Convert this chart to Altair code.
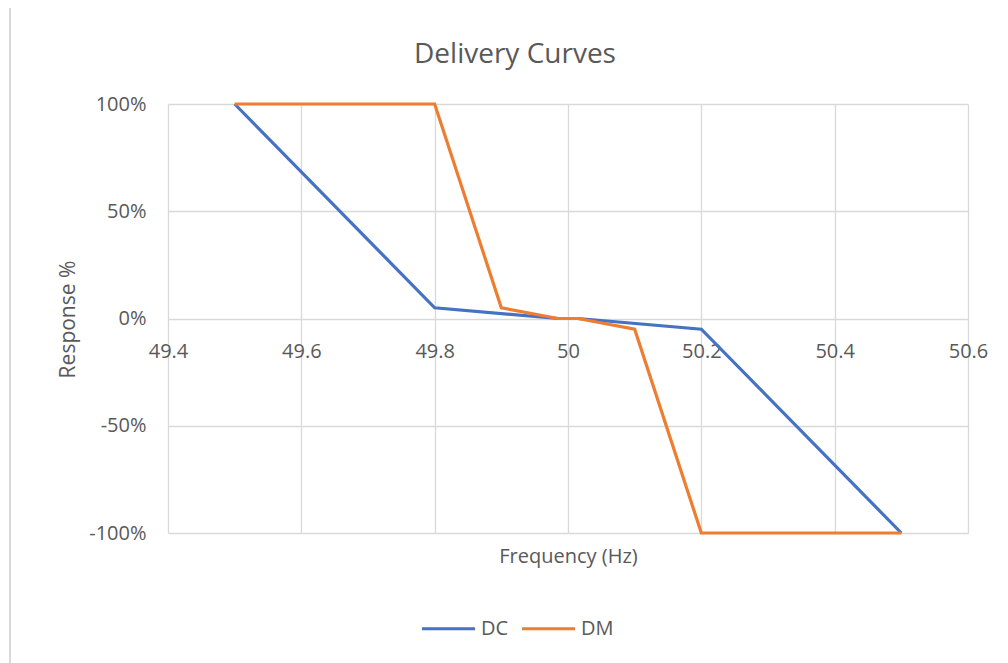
import altair as alt
import pandas as pd

dc_freq = [49.5, 49.8, 49.985, 50.015, 50.2, 50.5]
dc_resp = [1.00, 0.05, 0.0, 0.0, -0.05, -1.00]
dm_freq = [49.5, 49.8, 49.9, 49.985, 50.015, 50.1, 50.2, 50.5]
dm_resp = [1.00, 1.00, 0.05, 0.0, 0.0, -0.05, -1.00, -1.00]
series = ["DC", "DM"]
colors = ["#4472C4", "#ED7D31"]
x_ticks = [49.4, 49.6, 49.8, 50.0, 50.2, 50.4, 50.6]
y_ticks = [-1.0, -0.5, 0.0, 0.5, 1.0]

rows = []
for i, (f, r) in enumerate(zip(dc_freq, dc_resp)):
    rows.append({"series": "DC", "freq": f, "resp": r, "order": i})
for i, (f, r) in enumerate(zip(dm_freq, dm_resp)):
    rows.append({"series": "DM", "freq": f, "resp": r, "order": i})
df = pd.DataFrame(rows)

FONT = "Open Sans"
GRAY = "#595959"
W, H = 800, 429

lines = alt.Chart(df).mark_line(strokeWidth=3.2, clip=False).encode(
    x=alt.X("freq:Q", scale=alt.Scale(domain=[49.4, 50.6], nice=False, zero=False),
            axis=alt.Axis(values=x_ticks, labelExpr="datum.value == 50 ? '50' : format(datum.value, '.1f')",
                          offset=-214, domain=False, ticks=False, grid=True, gridColor="#D9D9D9",
                          gridWidth=1.3, labelPadding=22, labelFontSize=20, labelColor=GRAY,
                          labelFont=FONT, labelFlush=False, labelOverlap=False,
                          title="Frequency (Hz)", titleFont=FONT, titleFontSize=20,
                          titleFontWeight="normal", titleColor=GRAY, titleY=237,
                          titleX=400, titleBaseline="middle", titleAlign="center")),
    y=alt.Y("resp:Q", scale=alt.Scale(domain=[-1, 1], nice=False),
            axis=alt.Axis(values=y_ticks, labelExpr="replace(format(datum.value, '.0%'), '\u2212', '-')",
                          domain=False, ticks=False, grid=True,
                          gridColor="#D9D9D9", gridWidth=1.3, labelPadding=22, labelFontSize=20,
                          labelColor=GRAY, labelFont=FONT, labelFlush=False, labelOverlap=False,
                          title="Response %", titleFont=FONT,
                          titleFontSize=21, titleFontWeight="normal", titleColor=GRAY,
                          titleAngle=270, titleX=-100, titleY=215, titleAlign="center",
                          titleBaseline="middle")),
    color=alt.Color("series:N", scale=alt.Scale(domain=series, range=colors),
                    legend=alt.Legend(title=None, orient="none", direction="horizontal",
                                      legendX=252, legendY=496, symbolType="stroke",
                                      symbolSize=2809, symbolStrokeWidth=3.2, labelFontSize=20,
                                      labelFont=FONT, labelColor=GRAY, labelOffset=4,
                                      columnPadding=6)),
    order="order:Q",
)

border = pd.DataFrame({"k": [0]})
left_border = alt.Chart(border).mark_rule(color="#D9D9D9", strokeWidth=2).encode(
    x=alt.value(-158), y=alt.value(-100), y2=alt.value(560))
top_border = alt.Chart(border).mark_rule(color="#D9D9D9", strokeWidth=2).encode(
    x=alt.value(-158), x2=alt.value(840), y=alt.value(-100))

chart = alt.layer(left_border, top_border, lines).properties(
    width=W, height=H,
    title=alt.TitleParams("Delivery Curves", font=FONT, fontSize=28, fontWeight="normal",
                          color=GRAY, anchor="middle", dx=-53, offset=-66),
    autosize=alt.AutoSizeParams(type="none"),
    padding={"left": 160, "top": 96, "right": 32, "bottom": 130},
).configure_view(stroke=None)

chart.save("out.html", embed_options={"renderer": "svg", "actions": False})
